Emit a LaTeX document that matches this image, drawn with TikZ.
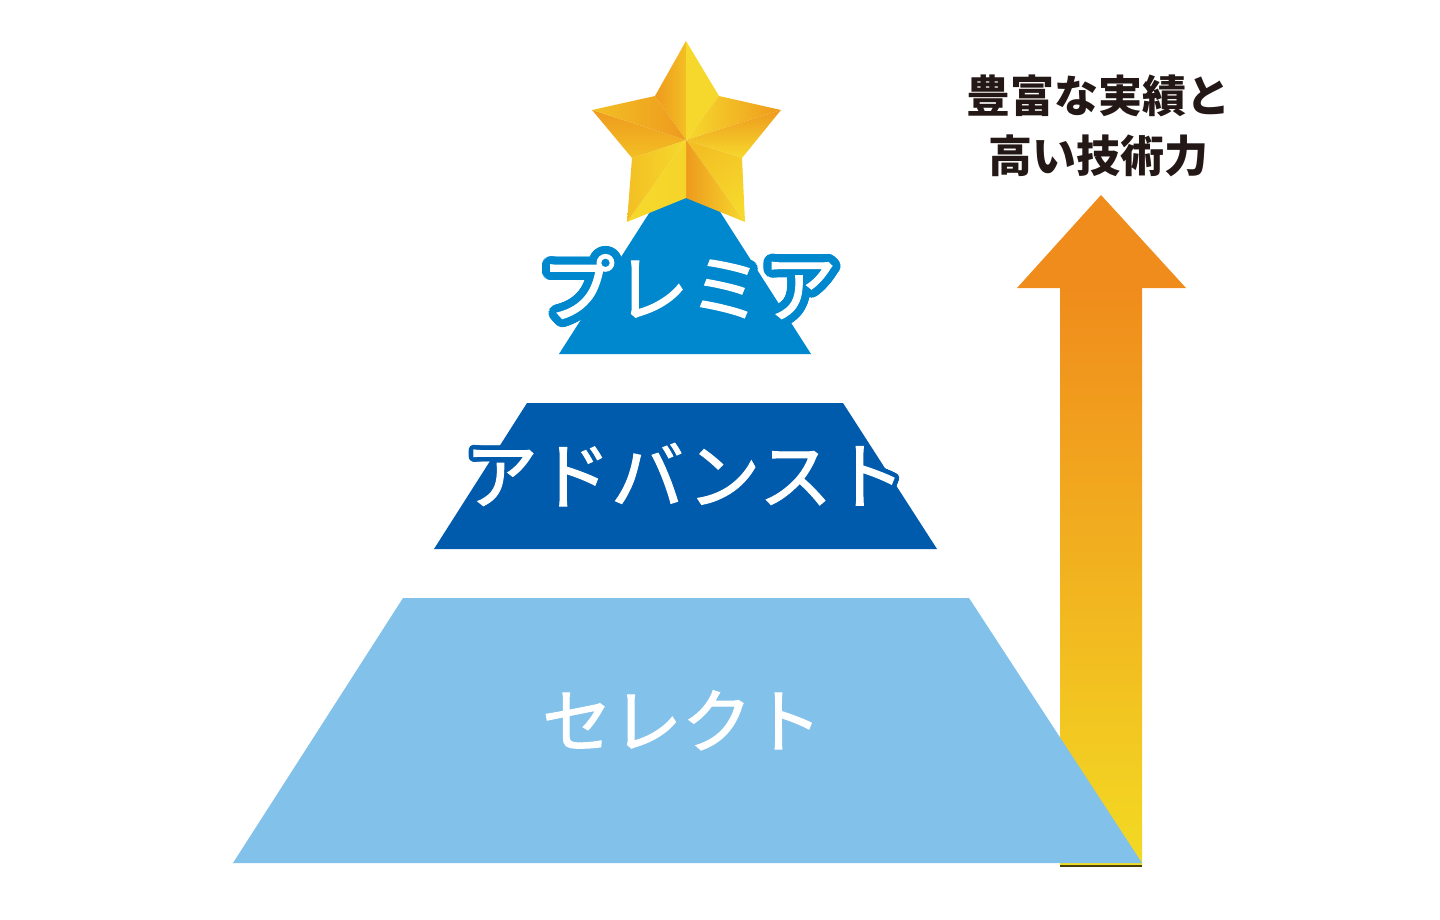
\documentclass[tikz,border=0pt]{standalone}
\usepackage{fontspec}
\usetikzlibrary{calc}
\newfontfamily\jp{Noto Sans CJK JP}
\newfontfamily\jpm[FakeBold=1.6]{Noto Sans CJK JP}
\definecolor{selc}{HTML}{82C1EA}
\definecolor{advc}{HTML}{005BAC}
\definecolor{prec}{HTML}{0088CF}
\definecolor{txtc}{HTML}{231815}
\definecolor{aor}{HTML}{F08C1C}
\definecolor{amid}{HTML}{F2BF22}
\definecolor{ayel}{HTML}{F3DA23}
\definecolor{gL}{HTML}{F6D92C}
\definecolor{gM}{HTML}{F3BF24}
\definecolor{gD}{HTML}{EE9A1E}
\newcommand\halotext[6]{%
  \foreach \a in {0,11.25,...,350}{%
    \node[lvl,text=#2] at ($(#1)+(\a:#3)$) {\fontsize{#4}{#4}\selectfont #5};
    \node[lvl,text=#2] at ($(#1)+(\a:#3*0.5)$) {\fontsize{#4}{#4}\selectfont #5};}
  \node[lvl,text=white] (#6) at (#1) {\fontsize{#4}{#4}\selectfont #5};}
\begin{document}
\begin{tikzpicture}[x=1pt,y=-1pt,
  lvl/.style={anchor=base,inner sep=0pt,font=\jpm},
  side/.style={anchor=base,inner sep=0pt,font=\jp\bfseries,text=txtc}]
\useasboundingbox (0,0) rectangle (1440,920);
% arrow
\fill[aor] (1017,288) -- (1101,195) -- (1186,288) -- cycle;
\shade[top color=aor,middle color=amid,bottom color=ayel] (1060,287) rectangle (1142,866);
\draw[line width=1.2pt,color=black!70!ayel] (1060,866) -- (1142,866);
% levels
\fill[selc] (233,863) -- (403,598) -- (969,598) -- (1142,863) -- cycle;
\fill[advc] (434,549) -- (527,403) -- (843,403) -- (937,549) -- cycle;
\fill[prec] (559,354) -- (685,157) -- (811,354) -- cycle;
% star
\coordinate (C) at (686,140);
\coordinate (O1) at (686,41);
\coordinate (O2) at (781,110);
\coordinate (O3) at (745,222);
\coordinate (O4) at (627,222);
\coordinate (O5) at (592,110);
\coordinate (I1) at (719,96);
\coordinate (I2) at (742,158);
\coordinate (I3) at (686,198);
\coordinate (I4) at (632,158);
\coordinate (I5) at (655,96);
\shade[top color=gM,bottom color=gD,shading angle=270] (C) -- (I5) -- (O1) -- cycle;
\shade[top color=gL,bottom color=gL!90!gM] (C) -- (O1) -- (I1) -- cycle;
\shade[top color=gL,bottom color=gD,shading angle=90] (C) -- (I1) -- (O2) -- cycle;
\shade[top color=gD,bottom color=gL] (C) -- (O2) -- (I2) -- cycle;
\shade[top color=gL,bottom color=gM,shading angle=216] (C) -- (I2) -- (O3) -- cycle;
\shade[top color=gD,bottom color=gL,shading angle=90] (C) -- (O3) -- (I3) -- cycle;
\shade[top color=gL,bottom color=gL!80!gM,shading angle=90] (C) -- (I3) -- (O4) -- cycle;
\shade[top color=gM,bottom color=gL,shading angle=90] (C) -- (O4) -- (I4) -- cycle;
\shade[top color=gD,bottom color=gM] (C) -- (I4) -- (O5) -- cycle;
\shade[top color=gM,bottom color=gD,shading angle=90] (C) -- (O5) -- (I5) -- cycle;
% texts
\coordinate (pt) at (689,316);
\halotext{pt}{prec}{8}{74}{プレミア}{premier}
\coordinate (at) at (685,503);
\halotext{at}{advc}{4.5}{73}{アドバンスト}{advanced}
\node[lvl,text=white] (select) at (682,747) {\fontsize{70}{70}\selectfont セレクト};
\node[side] (l1) at (1098,113) {\fontsize{44}{44}\selectfont 豊富な実績と};
\node[side] (l2) at (1098,173) {\fontsize{44}{44}\selectfont 高い技術力};
\end{tikzpicture}
\end{document}
